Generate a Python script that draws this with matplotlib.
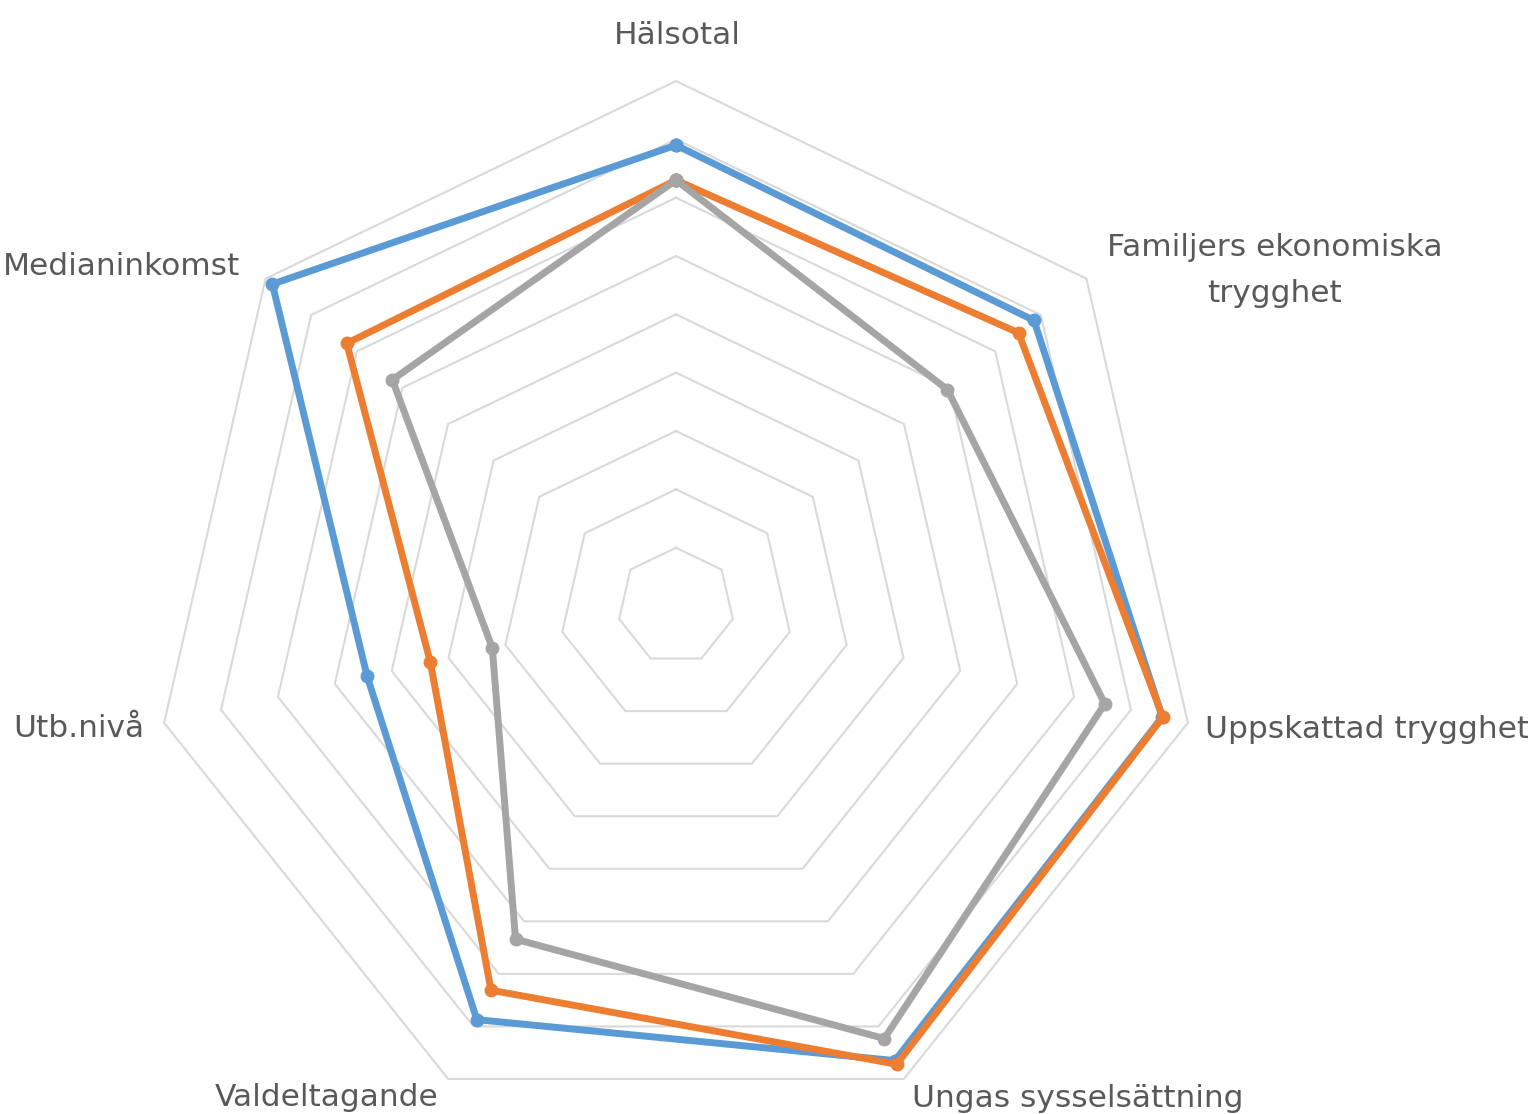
import numpy as np
import matplotlib
matplotlib.use("Agg")
import matplotlib.pyplot as plt

# axes, clockwise from the top
categories = ["Hälsotal", "Familjers ekonomiska\ntrygghet", "Uppskattad trygghet",
              "Ungas sysselsättning", "Valdeltagande", "Utb.nivå", "Medianinkomst"]
serie_bla = [79.0, 78.5, 85.5, 86.5, 78.7, 54.3, 88.5]
serie_orange = [73.0, 75.1, 85.6, 87.2, 73.1, 43.2, 72.2]
serie_gra = [73.0, 59.5, 75.4, 82.3, 63.4, 32.3, 62.2]
ring_levels = [10, 20, 30, 40, 50, 60, 70, 80, 90]

colors = ["#5B9BD5", "#ED7D31", "#A5A5A5"]
txt_color = "#595959"

W, H = 1528, 1114
fig = plt.figure(figsize=(W / 100, H / 100), dpi=100)
fig.patch.set_facecolor("white")

# centre (676, 606) px, outer radius 525 px
cx, cy, R = 676, 606, 525
ax = fig.add_axes([(cx - R) / W, (H - cy - R) / H, 2 * R / W, 2 * R / H],
                  projection="polar")
ax.set_theta_offset(np.pi / 2)
ax.set_theta_direction(-1)
ax.set_ylim(0, ring_levels[-1])
ax.grid(False)
ax.set_xticks([])
ax.set_yticks([])
ax.spines["polar"].set_visible(False)
ax.patch.set_alpha(0)

n = len(categories)
theta = np.linspace(0, 2 * np.pi, n, endpoint=False)
theta_c = np.append(theta, theta[0])

for lvl in ring_levels:
    ax.plot(theta_c, [lvl] * (n + 1), color="#D9D9D9", lw=1.5, clip_on=False, zorder=1)

for vals, c in zip([serie_bla, serie_orange, serie_gra], colors):
    v = list(vals) + [vals[0]]
    ax.plot(theta_c, v, color=c, lw=5.0, marker="o", ms=9, mfc=c, mec=c,
            solid_joinstyle="round", clip_on=False, zorder=3)

# category labels (pixel positions: x, baseline y, alignment)
label_pos = [(677, 44, "center"), (1275, 256, "center"), (1205, 738, "left"),
             (912, 1107, "left"), (327, 1106, "center"), (13, 737, "left"),
             (3, 275, "left")]
fs = 22.5
for lab, (x, y, ha) in zip(categories, label_pos):
    if "\n" in lab:
        l1, l2 = lab.split("\n")
        fig.text(x / W, 1 - y / H, l1, ha=ha, va="baseline", fontsize=fs, color=txt_color)
        fig.text(x / W, 1 - (y + 46) / H, l2, ha=ha, va="baseline", fontsize=fs, color=txt_color)
    else:
        fig.text(x / W, 1 - y / H, lab, ha=ha, va="baseline", fontsize=fs, color=txt_color)

fig.savefig("out.png", dpi=100, facecolor="white")
